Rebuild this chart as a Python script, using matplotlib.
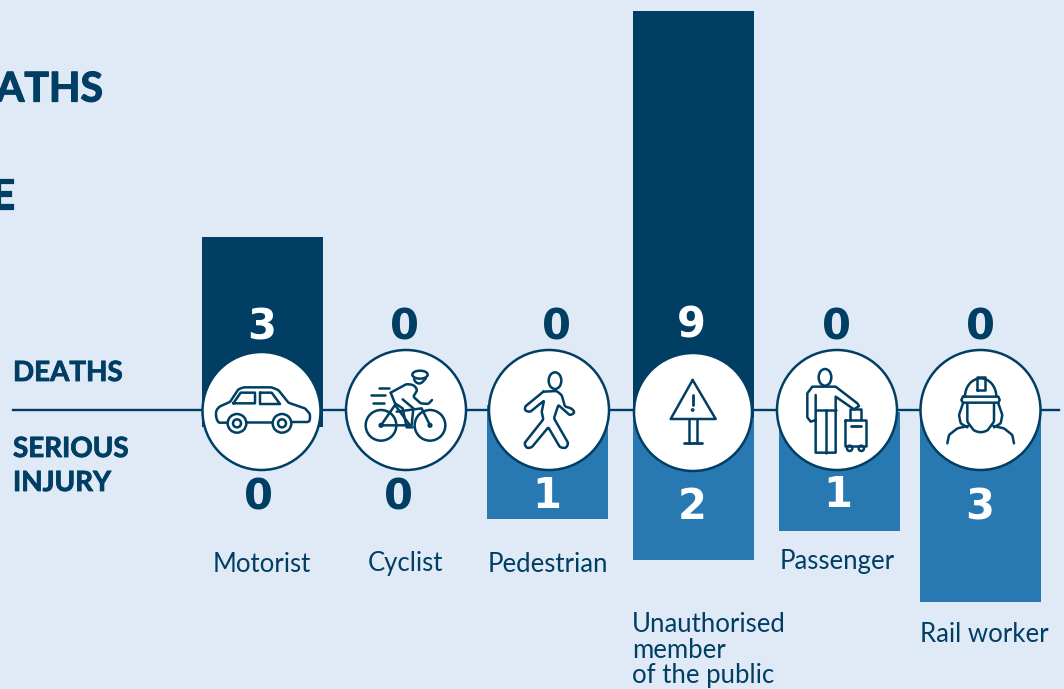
import numpy as np
import matplotlib
matplotlib.use("Agg")
import matplotlib.pyplot as plt
import matplotlib.patheffects as pe
from matplotlib.patches import Circle, Ellipse, Arc

# values shown on the chart
categories = ["Motorist", "Cyclist", "Pedestrian", "Unauthorised\nmember\nof the public", "Passenger", "Rail worker"]
deaths = [3, 0, 0, 9, 0, 0]
injuries = [0, 0, 1, 2, 1, 3]

# bar lengths as drawn (picture is not to scale with the numbers)
death_len = [190, 0, 0, 407, 0, 0]
injury_len = [0, 0, 114, 142, 119, 190]

dark = "#003F63"
blue = "#2878B2"
bg = "#E0EAF7"

# layout in pixels
bar_x = [262.5, 406, 547.5, 693.5, 839.5, 980.5]
bar_w = 121
death_base = [427, 410, 410, 418, 410, 410]
injury_base = [410, 410, 405, 418, 412, 412]
circ_x = [261.5, 406, 549, 693, 837, 980.5]
circ_y = [411, 410, 410, 412, 410, 410]
circ_r = [59, 60, 60, 59, 60, 60]
death_num_x = [262, 405, 556, 691, 837, 980]
death_num_y = [327, 327, 327, 326, 327, 327]
inj_num_x = [259, 399, 547, 692, 838, 980]
inj_num_y = [497, 497, 496, 507, 495, 507]
lab_x = [262, 405, 548, 632, 837, 984]
lab_y = [564, 564, 564, 650, 562, 635]
lab_ha = ["center", "center", "center", "left", "center", "center"]

plt.rcParams['font.family'] = ['Lato', 'DejaVu Sans']

fig = plt.figure(figsize=(10.64, 6.89), dpi=100, facecolor=bg)
ax = fig.add_axes([0, 0, 1, 1])
ax.set_xlim(0, 1064)
ax.set_ylim(689, 0)
ax.axis('off')

#bars
for i in range(len(categories)):
    if injury_len[i] > 0:
        ax.bar(bar_x[i], injury_len[i], width=bar_w, bottom=injury_base[i], color=blue, zorder=1)
    if death_len[i] > 0:
        ax.bar(bar_x[i], -death_len[i], width=bar_w, bottom=death_base[i], color=dark, zorder=2)

#baseline
ax.plot([13, 1059], [410, 410], color=dark, lw=1.7, zorder=3)

#headings, only the part inside the picture is visible in the original
heavy = [pe.withStroke(linewidth=0.9, foreground=dark)]
ax.text(103, 90, "ATHS", color=dark, fontsize=29.5, fontweight='bold', ha='right', va='center', path_effects=heavy)
ax.text(15, 197, "E", color=dark, fontsize=29.5, fontweight='bold', ha='right', va='center', path_effects=heavy)
side = [pe.withStroke(linewidth=0.6, foreground=dark)]
ax.text(13, 373, "DEATHS", color=dark, fontsize=20, fontweight='bold', va='center', path_effects=side)
ax.text(13, 449, "SERIOUS", color=dark, fontsize=20, fontweight='bold', va='center', path_effects=side)
ax.text(13, 483, "INJURY", color=dark, fontsize=20, fontweight='bold', va='center', path_effects=side)

for i in range(len(categories)):
    ax.add_patch(Circle((circ_x[i], circ_y[i]), circ_r[i], fc='white', ec=dark, lw=1.8, zorder=4))
    ax.text(death_num_x[i], death_num_y[i], str(deaths[i]), color='white' if deaths[i] > 0 else dark,
            fontsize=30, fontweight='bold', family=['DejaVu Sans'], ha='center', va='center', zorder=5)
    ax.text(inj_num_x[i], inj_num_y[i], str(injuries[i]), color='white' if injuries[i] > 0 else dark,
            fontsize=30, fontweight='bold', family=['DejaVu Sans'], ha='center', va='center', zorder=5)
    ax.text(lab_x[i], lab_y[i], categories[i], color=dark, fontsize=18.5, fontweight='normal',
            ha=lab_ha[i], va='center', linespacing=1.0, zorder=5)


def soften(p, d=9):
    # round corners over a fixed distance so long straight edges stay straight
    q = [p[0]]
    for a, b in zip(p[:-1], p[1:]):
        n = np.linalg.norm(b - a)
        if n > 2.5 * d:
            q.append(a + (b - a) * d / n)
            q.append(b - (b - a) * d / n)
        q.append(b)
    p = np.array(q)
    for _ in range(2):
        a, b = p[:-1], p[1:]
        c = np.empty((2 * len(a), 2))
        c[0::2] = 0.75 * a + 0.25 * b
        c[1::2] = 0.25 * a + 0.75 * b
        p = np.vstack([p[0], c, p[-1]])
    return p


def line(ox, oy, pts, closed=False, lw=1.8, soft=False):
    p = np.array(pts, dtype=float)
    if closed:
        p = np.vstack([p, p[0]])
    if soft:
        p = soften(p)
    ax.plot(ox + p[:, 0] / 3, oy + p[:, 1] / 3, color=dark, lw=lw, zorder=6,
            solid_capstyle='round', solid_joinstyle='round')


def ring(ox, oy, x, y, r, lw=1.8, fill='none'):
    ax.add_patch(Circle((ox + x / 3, oy + y / 3), r / 3, fc=fill, ec=dark, lw=lw, zorder=6))


def oval(ox, oy, x, y, w, h):
    ax.add_patch(Ellipse((ox + x / 3, oy + y / 3), w / 3, h / 3, fc='none', ec=dark, lw=1.8, zorder=6))


#car icon
o = (180, 340)
line(*o, [(140, 248), (115, 248), (108, 232), (108, 212), (118, 200), (150, 186), (175, 148), (190, 142),
          (275, 142), (295, 150), (325, 188), (375, 205), (390, 222), (390, 240), (385, 246), (335, 246)], soft=True)
line(*o, [(202, 246), (276, 246)])
line(*o, [(160, 190), (182, 158), (225, 158), (225, 190)], closed=True)
line(*o, [(240, 158), (275, 158), (300, 192), (240, 192)], closed=True)
for wx in [171, 306]:
    ring(*o, wx, 250, 28)
    ring(*o, wx, 250, 12)

#cyclist icon
ring(*o, 603, 256, 46)
ring(*o, 750, 256, 46)
ring(*o, 603, 256, 4, fill=dark)
ring(*o, 750, 256, 4, fill=dark)
oval(*o, 720, 104, 46, 24)
line(*o, [(702, 118), (708, 128), (722, 132), (737, 116)], soft=True)
line(*o, [(597, 145), (628, 145)])
line(*o, [(572, 165), (615, 165)])
line(*o, [(580, 188), (612, 188)])
line(*o, [(632, 158), (680, 132), (702, 135), (712, 150), (700, 170), (722, 190), (745, 192), (756, 180)], soft=True)
line(*o, [(632, 158), (645, 190), (668, 205), (680, 262), (698, 262)])
line(*o, [(668, 178), (700, 205), (695, 255)])
line(*o, [(603, 256), (645, 195), (690, 256), (603, 256)])
line(*o, [(650, 215), (725, 205), (750, 256)])

#pedestrian icon
o = (480, 340)
oval(*o, 225, 122, 38, 50)
line(*o, [(190, 155), (135, 200), (135, 212), (150, 216), (192, 182), (185, 215), (190, 238), (133, 310),
          (140, 325), (155, 322), (205, 262), (240, 322), (258, 325), (265, 310), (222, 235), (235, 195),
          (270, 226), (285, 218), (275, 205), (255, 200), (245, 165), (230, 153)], closed=True, soft=True)

#warning sign icon
line(*o, [(638, 120), (572, 237), (707, 237)], closed=True)
line(*o, [(638, 165), (638, 195)], lw=2)
ring(*o, 638, 210, 2, fill=dark)
line(*o, [(628, 237), (628, 310)])
line(*o, [(650, 237), (650, 310)])
line(*o, [(612, 310), (665, 310)], lw=2)

#passenger icon
o = (764, 340)
oval(*o, 183, 112, 38, 50)
line(*o, [(155, 240), (140, 245), (130, 232), (130, 160), (145, 140), (215, 140), (280, 190), (285, 198),
          (270, 208), (215, 170), (215, 338), (155, 338), (155, 165)])
line(*o, [(155, 210), (215, 210)])
line(*o, [(185, 210), (185, 338)])
line(*o, [(243, 240), (307, 240), (307, 318), (243, 318)], closed=True)
line(*o, [(258, 240), (258, 208), (290, 208), (290, 240)])
line(*o, [(262, 257), (290, 257)], lw=2)
ring(*o, 257, 325, 8)
ring(*o, 292, 325, 8)

#rail worker icon
ax.add_patch(Arc((764 + 650 / 3, 340 + 170 / 3), 94 / 3, 110 / 3, theta1=180, theta2=360, ec=dark, lw=1.8, zorder=6))
line(*o, [(597, 170), (703, 170), (707, 180), (703, 188), (597, 188), (592, 180)], closed=True)
line(*o, [(638, 150), (638, 112), (662, 112), (662, 150), (638, 150)])
line(*o, [(610, 190), (610, 245), (630, 272), (650, 278), (670, 272), (690, 245), (690, 190)], soft=True)
line(*o, [(597, 190), (585, 225), (590, 250), (610, 262)], soft=True)
line(*o, [(703, 190), (715, 225), (710, 250), (690, 262)], soft=True)
line(*o, [(550, 310), (555, 285), (580, 265), (612, 258)], soft=True)
line(*o, [(750, 310), (745, 285), (720, 265), (688, 258)], soft=True)

fig.savefig("out.png", dpi=100, facecolor=bg)
